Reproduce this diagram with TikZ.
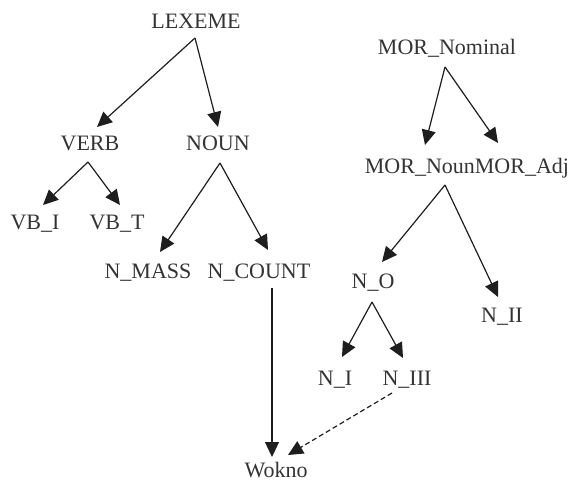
\documentclass[tikz,border=0pt]{standalone}
\usepackage{fontspec}
\setmainfont{Liberation Serif}
\usetikzlibrary{arrows.meta}
\definecolor{txt}{HTML}{333333}
\definecolor{ln}{HTML}{1E1E1E}
\begin{document}
\begin{tikzpicture}[x=1pt,y=-1pt,
  lab/.style={anchor=base,inner sep=0pt,text=txt,font=\fontsize{22}{26}\selectfont},
  arr/.style={draw=ln,line width=1.2pt,-{Triangle[length=15pt,width=14pt]}},
  darr/.style={arr,dashed,dash pattern=on 5pt off 3pt}]
\useasboundingbox (0,0) rectangle (577,484);
\node[lab] (lex) at (196,29) {LEXEME};
\node[lab] (verb) at (90,150) {VERB};
\node[lab] (noun) at (218,150) {NOUN};
\node[lab] (vbi) at (35,229) {VB\_I};
\node[lab] (vbt) at (117,229) {VB\_T};
\node[lab] (nmass) at (148,278) {N\_MASS};
\node[lab] (ncount) at (259,278) {N\_COUNT};
\node[lab] (wokno) at (276,477) {Wokno};
\node[lab] (mornom) at (447,55) {MOR\_Nominal};
\node[lab] (mornoun) at (467,173) {MOR\_NounMOR\_Adj};
\node[lab] (no) at (373,288) {N\_O};
\node[lab] (nii) at (502,322) {N\_II};
\node[lab] (ni) at (335,385) {N\_I};
\node[lab] (niii) at (407,385) {N\_III};
% LEXEME
\draw[arr] ([shift={(-1pt,-9pt)}]lex.base) -- ([shift={(7pt,23pt)}]verb.base);
\draw[arr] ([shift={(-1pt,-9pt)}]lex.base) -- ([shift={(0pt,23pt)}]noun.base);
% VERB
\draw[arr] ([shift={(-2pt,-12pt)}]verb.base) -- ([shift={(8pt,24pt)}]vbi.base);
\draw[arr] ([shift={(-2pt,-12pt)}]verb.base) -- ([shift={(3pt,24pt)}]vbt.base);
% NOUN
\draw[arr] ([shift={(2pt,-13pt)}]noun.base) -- ([shift={(12pt,26pt)}]nmass.base);
\draw[arr] ([shift={(2pt,-13pt)}]noun.base) -- ([shift={(9pt,28pt)}]ncount.base);
% N_COUNT -> Wokno
\draw[arr] ([shift={(13pt,-10pt)}]ncount.base) -- ([shift={(-4pt,20pt)}]wokno.base);
% MOR_Nominal
\draw[arr] ([shift={(-2pt,-12pt)}]mornom.base) -- ([shift={(-42pt,28pt)}]mornoun.base);
\draw[arr] ([shift={(-2pt,-12pt)}]mornom.base) -- ([shift={(31pt,30pt)}]mornoun.base);
% MOR_Noun
\draw[arr] ([shift={(-22pt,-12pt)}]mornoun.base) -- ([shift={(9pt,26pt)}]no.base);
\draw[arr] ([shift={(-22pt,-12pt)}]mornoun.base) -- ([shift={(-4pt,25pt)}]nii.base);
% N_O
\draw[arr] ([shift={(-1pt,-14pt)}]no.base) -- ([shift={(7pt,28pt)}]ni.base);
\draw[arr] ([shift={(-1pt,-14pt)}]no.base) -- ([shift={(-4pt,27pt)}]niii.base);
% N_III -> Wokno dashed
\draw[darr] ([shift={(-15pt,-8pt)}]niii.base) -- ([shift={(12pt,22pt)}]wokno.base);
\end{tikzpicture}
\end{document}
